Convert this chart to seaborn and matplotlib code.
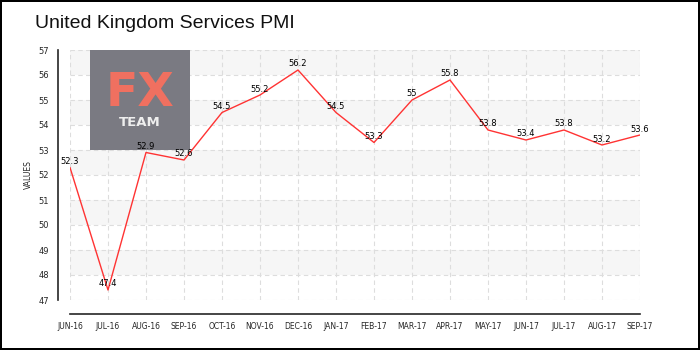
import matplotlib
matplotlib.use("Agg")
import matplotlib.pyplot as plt
import seaborn as sns
import pandas as pd
from matplotlib.patches import Rectangle

months = ["JUN-16", "JUL-16", "AUG-16", "SEP-16", "OCT-16", "NOV-16", "DEC-16", "JAN-17",
          "FEB-17", "MAR-17", "APR-17", "MAY-17", "JUN-17", "JUL-17", "AUG-17", "SEP-17"]
values = [52.3, 47.4, 52.9, 52.6, 54.5, 55.2, 56.2, 54.5, 53.3, 55, 55.8, 53.8, 53.4, 53.8, 53.2, 53.6]
value_labels = ["52.3", "47.4", "52.9", "52.6", "54.5", "55.2", "56.2", "54.5",
                "53.3", "55", "55.8", "53.8", "53.4", "53.8", "53.2", "53.6"]
y_ticks = [47, 48, 49, 50, 51, 52, 53, 54, 55, 56, 57]

sns.set_style("white")
plt.rcParams['font.family'] = ['DejaVu Sans']

df = pd.DataFrame({"pos": range(len(months)), "value": values})

fig = plt.figure(figsize=(7, 3.5), dpi=100)
fig.patch.set_facecolor("white")
fig.patch.set_edgecolor("black")
fig.patch.set_linewidth(1.6)
ax = fig.add_axes([70/700, 50/350, 570/700, 250/350])

# alternating bands
for lo in [48, 50, 52, 54, 56]:
    ax.axhspan(lo, lo + 1, color="#f6f6f6", zorder=0, lw=0)

sns.lineplot(data=df, x="pos", y="value", color="#ff3333", lw=1.0, ax=ax, zorder=3)

ax.set_xlim(0, len(months) - 1)
ax.set_ylim(47, 57)
ax.set_xticks(range(len(months)))
ax.set_xticklabels(months)
ax.set_yticks(y_ticks)
ax.set_yticklabels([str(t) for t in y_ticks])
ax.set_yticks([t + 0.5 for t in y_ticks[:-1]], minor=True)
ax.tick_params(axis="y", which="minor", length=3, color="red", width=1)
ax.tick_params(axis="y", which="major", length=4, width=1, color="black", pad=2, labelsize=6)
ax.tick_params(axis="x", which="major", direction="inout", length=6, width=1,
               color="black", pad=3, labelsize=5.5)
ax.set_xlabel("")
ax.set_ylabel("VALUES", fontsize=5.5, labelpad=4)

ax.grid(True, color="#dddddd", linestyle=(0, (4, 3)), lw=0.8)
ax.set_axisbelow(True)
for s in ["top", "right"]:
    ax.spines[s].set_visible(False)
ax.spines["left"].set_position(("outward", 9))
ax.spines["bottom"].set_position(("outward", 10))
ax.spines["left"].set_linewidth(1.2)
ax.spines["bottom"].set_linewidth(1.2)

for i, (v, lab) in enumerate(zip(values, value_labels)):
    ax.annotate(lab, (i, v), xytext=(0, 6), textcoords="offset pixels",
                ha="center", va="center", fontsize=6, color="black", zorder=4)

# logo
ax.add_patch(Rectangle((20/570, 0.6), 100/570, 0.4, transform=ax.transAxes,
                       facecolor="#7a7a82", edgecolor="none", zorder=2))
fig.text(140/700, 1 - 93/350, "FX", color="#f07060", fontsize=34, ha="center",
         va="center", fontweight="bold", zorder=5)
fig.text(140/700, 1 - 122/350, "TEAM", color="#eeeeee", fontsize=9.5, ha="center",
         va="center", fontweight="bold", zorder=5)

fig.text(35/700, 1 - 24/350, "United Kingdom Services PMI", fontsize=14,
         ha="left", va="center", color="#111111",
         family=["Liberation Sans", "DejaVu Sans"])

fig.savefig("out.png", dpi=100)
